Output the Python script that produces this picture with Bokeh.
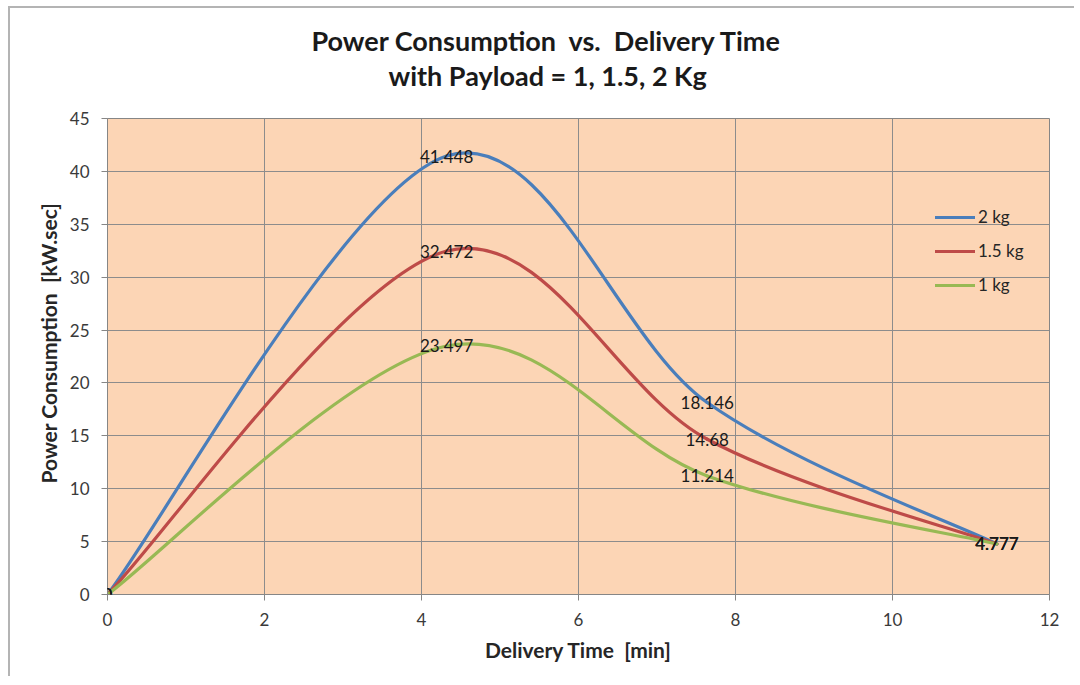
from bokeh.plotting import figure
from bokeh.models import Label, Legend, LegendItem, Range1d, FixedTicker, ColumnDataSource, Title
from bokeh.embed import file_html
from bokeh.resources import INLINE

# ---------------- data ----------------
delivery_time = [0, 4.32, 7.64, 11.33]
power_2kg = [0, 41.448, 18.146, 4.777]
power_15kg = [0, 32.472, 14.68, 4.777]
power_1kg = [0, 23.497, 11.214, 4.777]
series_names = ["2 kg", "1.5 kg", "1 kg"]
series_colors = ["#4A7EBB", "#BE4B48", "#98B954"]
x_ticks = [0, 2, 4, 6, 8, 10, 12]
y_ticks = [0, 5, 10, 15, 20, 25, 30, 35, 40, 45]

title_line1 = "Power Consumption \u00a0vs. \u00a0Delivery Time"
title_line2 = "with Payload = 1, 1.5, 2 Kg"
x_title = "Delivery Time \u00a0[min]"
y_title = "Power Consumption \u00a0[kW.sec]"

FONT = "Lato"


def smooth_segments(xs, ys):
    """Bezier segments (Excel-like smoothed line) through the data points."""
    n = len(xs)
    d = dict(x0=[], y0=[], x1=[], y1=[], cx0=[], cy0=[], cx1=[], cy1=[])
    for i in range(n - 1):
        im1 = max(i - 1, 0)
        ip2 = min(i + 2, n - 1)
        d["x0"].append(xs[i]); d["y0"].append(ys[i])
        d["x1"].append(xs[i + 1]); d["y1"].append(ys[i + 1])
        d["cx0"].append(xs[i] + (xs[i + 1] - xs[im1]) / 6.0)
        d["cy0"].append(ys[i] + (ys[i + 1] - ys[im1]) / 6.0)
        d["cx1"].append(xs[i + 1] - (xs[ip2] - xs[i]) / 6.0)
        d["cy1"].append(ys[i + 1] - (ys[ip2] - ys[i]) / 6.0)
    return d


p = figure(width=1066, height=670, output_backend="svg", toolbar_location=None,
           x_range=Range1d(0, 12), y_range=Range1d(0, 45),
           min_border_left=97, min_border_right=27, min_border_top=110, min_border_bottom=84)
p.margin = (6, 0, 0, 8)
p.styles = {"border-top": "2px solid #b4b4b4", "border-left": "2px solid #b4b4b4"}

p.background_fill_color = "#FCD5B5"
p.border_fill_color = "white"
p.outline_line_color = "#868686"
p.outline_line_width = 1

p.xaxis.ticker = FixedTicker(ticks=x_ticks)
p.yaxis.ticker = FixedTicker(ticks=y_ticks)
p.xgrid.ticker = FixedTicker(ticks=x_ticks)
p.ygrid.ticker = FixedTicker(ticks=y_ticks)
for g in (p.xgrid, p.ygrid):
    g.grid_line_color = "#8c8c8c"
    g.grid_line_width = 1

for ax in (p.xaxis, p.yaxis):
    ax.axis_line_color = "#868686"
    ax.major_tick_line_color = "#868686"
    ax.major_tick_out = 6
    ax.major_tick_in = 0
    ax.minor_tick_line_color = None
    ax.major_label_text_font = FONT
    ax.major_label_text_font_size = "17px"
    ax.major_label_text_color = "#3a3a3a"
    ax.major_label_standoff = 12

p.xaxis.axis_label = x_title
p.xaxis.axis_label_text_font = FONT
p.xaxis.axis_label_text_font_size = "21px"
p.xaxis.axis_label_text_font_style = "bold"
p.xaxis.axis_label_text_color = "#262626"
p.xaxis.axis_label_standoff = 8

# smoothed series lines
all_series = [power_2kg, power_15kg, power_1kg]
legend_items = []
for name, vals, col in zip(series_names, all_series, series_colors):
    src = ColumnDataSource(smooth_segments(delivery_time, vals))
    r = p.bezier(x0="x0", y0="y0", x1="x1", y1="y1", cx0="cx0", cy0="cy0", cx1="cx1", cy1="cy1",
                 source=src, line_color=col, line_width=3.2, line_cap="round")
    legend_items.append(LegendItem(label=name, renderers=[r], index=0))

# data labels
for vals in all_series:
    for xv, yv in zip(delivery_time, vals):
        p.add_layout(Label(x=xv, y=yv, text=f"{yv:g}", text_font=FONT, text_font_size="17px",
                           text_color="#1a1a1a", text_align="center", text_baseline="middle"))

legend = Legend(items=legend_items, location=(828, 299), orientation="vertical",
                glyph_width=40, glyph_height=20, label_standoff=3, spacing=13,
                padding=0, margin=0, border_line_alpha=0, background_fill_alpha=0,
                label_text_font=FONT, label_text_font_size="17px", label_text_color="#262626",
                label_height=20)
p.add_layout(legend)

# y axis title (left-side title, placed off-centre like the reference)
ytitle = Title(text=y_title, align="left", offset=111, standoff=12,
               text_font=FONT, text_font_size="21px", text_font_style="bold", text_color="#262626")
p.add_layout(ytitle, "left")

# chart title: spacer nearest the frame, then line 2, then line 1
spacer = Title(text=" ", text_font_size="1px", standoff=24)
t2 = Title(text=title_line2, align="left", offset=281, standoff=0,
           text_font=FONT, text_font_size="27px", text_font_style="bold", text_color="#1a1a1a")
t1 = Title(text=title_line1, align="left", offset=204, standoff=0,
           text_font=FONT, text_font_size="27px", text_font_style="bold", text_color="#1a1a1a")
p.add_layout(spacer, "above")
p.add_layout(t2, "above")
p.add_layout(t1, "above")

open("out.html", "w").write(file_html(p, INLINE))
